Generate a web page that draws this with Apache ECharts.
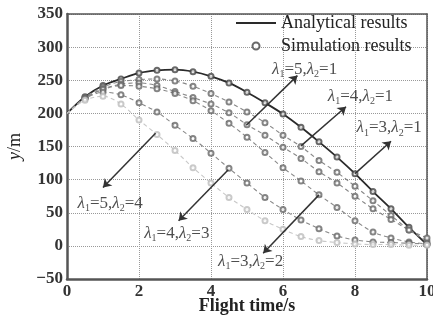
<!DOCTYPE html>
<html lang="en">

<head>
  <meta charset="UTF-8">
  <title>Flight trajectories</title>
  <script src="https://cdn.jsdelivr.net/npm/echarts@6/dist/echarts.min.js"></script>
</head>

<body style="margin:0">
  <div id="chart" style="width: 433px;height: 322px;"></div>
  <script>
    const myEcharts = echarts.init(document.getElementById('chart'))

    // flight time (s)
    const time = [0, 0.5, 1, 1.5, 2, 2.5, 3, 3.5, 4, 4.5, 5, 5.5, 6, 6.5, 7, 7.5, 8, 8.5, 9, 9.5, 10]
    // height y (m) for each lambda pair
    const y31 = [200, 225, 242, 252, 261, 265, 266, 263, 256, 246, 232, 216, 199, 179, 157, 134, 109, 82, 56, 28, 2]
    const y41 = [200, 224, 240, 248, 251, 252, 249, 241, 230, 217, 202, 186, 167, 150, 129, 111, 90, 68, 46, 24, 7]
    const y51 = [200, 223, 237, 244, 246, 242, 233, 224, 214, 201, 183, 167, 149, 132, 112, 95, 75, 56, 40, 24, 12]
    const y32 = [200, 223, 236, 242, 241, 237, 230, 219, 204, 185, 164, 141, 118, 98, 77, 58, 38, 21, 12, 6, 3]
    const y43 = [200, 222, 232, 228, 216, 202, 182, 162, 140, 117, 95, 73, 55, 39, 26, 15, 9, 6, 5, 4, 3]
    const y54 = [200, 220, 226, 214, 190, 168, 144, 118, 95, 73, 55, 38, 25, 14, 8, 5, 3, 2, 2, 1, 1]

    const xTicks = [0, 2, 4, 6, 8, 10]
    const yTicks = [-50, 0, 50, 100, 150, 200, 250, 300, 350]

    // annotation: [lambda1, lambda2, tailX, tailY, headX, headY, labelX, labelY]
    const notes = [
      [5, 1, 4.98, 182, 6.4, 257, 6.6, 266],
      [4, 1, 6.5, 151, 7.75, 210, 8.15, 226],
      [3, 1, 8.0, 109, 9.0, 158, 8.95, 178],
      [5, 4, 2.46, 170, 1.0, 88, 1.2, 64],
      [4, 3, 4.48, 115, 3.1, 38, 3.05, 19],
      [3, 2, 7.0, 77, 5.45, -11, 5.1, -24]
    ]

    const curves = [
      { y: y31, line: '#2a2a2a', dot: '#444', dash: 'solid' },
      { y: y41, line: '#888', dot: '#666', dash: [4, 3] },
      { y: y51, line: '#888', dot: '#666', dash: [4, 3] },
      { y: y32, line: '#888', dot: '#666', dash: [4, 3] },
      { y: y43, line: '#888', dot: '#666', dash: [4, 3] },
      { y: y54, line: '#c8c8c8', dot: '#bdbdbd', dash: [4, 3] }
    ]

    const serif = "'Liberation Serif', 'DejaVu Serif', serif"
    const series = []

    curves.forEach(c => {
      series.push({
        type: 'line',
        name: 'Analytical results',
        data: time.map((t, i) => [t, c.y[i]]),
        smooth: 0.3,
        showSymbol: false,
        symbol: 'none',
        lineStyle: { color: c.line, width: c.dash === 'solid' ? 1.8 : 1.1, type: c.dash },
        itemStyle: { color: c.line },
        z: 3
      })
    })
    curves.forEach(c => {
      series.push({
        type: 'scatter',
        name: 'Simulation results',
        data: time.slice(1).map((t, i) => [t, c.y[i + 1]]),
        symbol: 'emptyCircle',
        symbolSize: 5,
        itemStyle: { color: c.dot, borderColor: c.dot, borderWidth: 1 },
        z: 4
      })
    })

    // arrows + lambda labels
    series.push({
      type: 'scatter',
      name: 'notes',
      data: notes.map(n => [n[6], n[7], n[0], n[1]]),
      symbolSize: 1,
      itemStyle: { color: 'rgba(0,0,0,0)' },
      label: {
        show: true,
        position: 'inside',
        color: '#222',
        formatter: p => `{i|λ}{s|1}{n|=${p.value[2]},}{i|λ}{s|2}{n|=${p.value[3]}}`,
        rich: {
          n: { fontFamily: serif, fontSize: 17, lineHeight: 20, color: '#222' },
          i: { fontFamily: serif, fontSize: 17, lineHeight: 20, fontStyle: 'italic', color: '#222' },
          s: { fontFamily: serif, fontSize: 10, verticalAlign: 'bottom', color: '#222' }
        }
      },
      markLine: {
        silent: true,
        symbol: ['none', 'arrow'],
        symbolSize: 8,
        label: { show: false },
        itemStyle: { color: '#333' },
        lineStyle: { color: '#333', width: 1.5, type: 'solid' },
        data: notes.map(n => [{ coord: [n[2], n[3]] }, { coord: [n[4], n[5]] }])
      },
      z: 5
    })

    const option = {
      animation: false,
      backgroundColor: '#fff',
      grid: { left: 67, right: 6, top: 14, bottom: 43, outerBoundsMode: 'none' },
      legend: {
        data: [
          { name: 'Analytical results', icon: 'path://M0,0H40V1.8H0Z' },
          { name: 'Simulation results' }
        ],
        orient: 'vertical',
        left: 231,
        top: 9,
        itemWidth: 40,
        itemHeight: 7,
        itemGap: 5,
        textStyle: { fontFamily: serif, fontSize: 18, color: '#222' }
      },
      xAxis: [
        {
          type: 'value',
          min: xTicks[0],
          max: xTicks[xTicks.length - 1],
          interval: 2,
          name: 'Flight time/s',
          nameLocation: 'middle',
          nameGap: 18,
          nameMoveOverlap: false,
          nameTextStyle: { fontFamily: serif, fontSize: 18, fontWeight: 'bold', color: '#222' },
          axisLine: { onZero: false, lineStyle: { color: '#555', width: 2.5 } },
          axisTick: { show: false },
          axisLabel: { fontFamily: serif, fontSize: 17, fontWeight: 'bold', color: '#333', margin: 4 },
          splitLine: { lineStyle: { color: '#999', type: 'dotted' } }
        },
        {
          type: 'value',
          position: 'top',
          min: 0,
          max: 10,
          axisLine: { show: true, onZero: false, lineStyle: { color: '#555', width: 1.5 } },
          axisTick: { show: false },
          axisLabel: { show: false },
          splitLine: { show: false }
        }
      ],
      yAxis: [
        {
          type: 'value',
          min: yTicks[0],
          max: yTicks[yTicks.length - 1],
          interval: 50,
          name: '{i|y}{n|/m}',
          nameLocation: 'middle',
          nameGap: 43,
          nameRotate: 90,
          nameMoveOverlap: false,
          nameTextStyle: {
            rich: {
              i: { fontFamily: serif, fontSize: 18, fontStyle: 'italic', color: '#222' },
              n: { fontFamily: serif, fontSize: 18, color: '#222' }
            }
          },
          axisLine: { show: true, onZero: false, lineStyle: { color: '#555', width: 2.5 } },
          axisTick: { show: false },
          axisLabel: {
            fontFamily: serif, fontSize: 17, fontWeight: 'bold', color: '#333', margin: 4,
            formatter: v => String(v).replace('-', '\u2212')
          },
          splitLine: { lineStyle: { color: '#999', type: 'dotted' } }
        },
        {
          type: 'value',
          position: 'right',
          min: -50,
          max: 350,
          axisLine: { show: true, onZero: false, lineStyle: { color: '#555', width: 1.5 } },
          axisTick: { show: false },
          axisLabel: { show: false },
          splitLine: { show: false }
        }
      ],
      series: series
    }

    myEcharts.setOption(option)
  </script>
</body>

</html>
